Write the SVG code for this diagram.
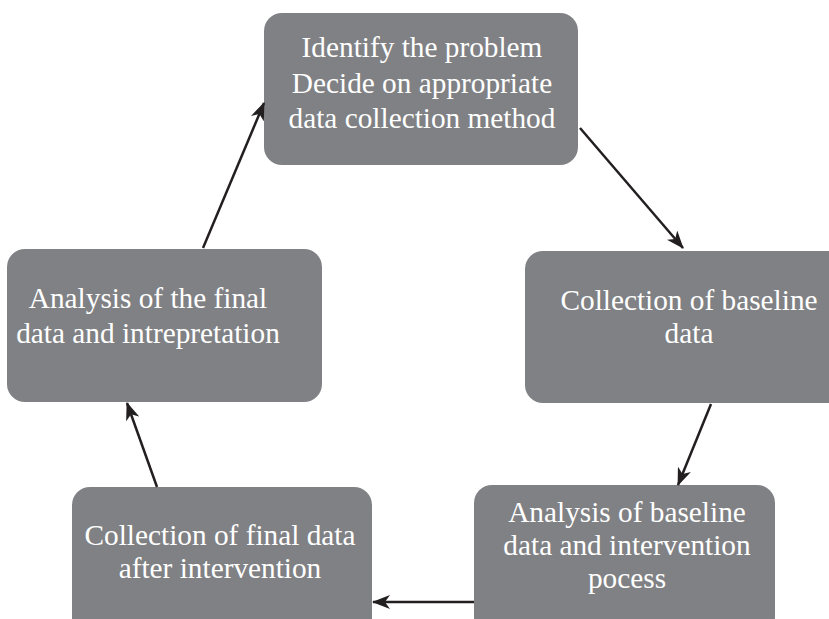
<svg xmlns="http://www.w3.org/2000/svg" width="829" height="619" viewBox="0 0 829 619">
<style>
.box{fill:#808184;}
.lbl{font-family:"Liberation Serif","Times New Roman",serif;font-size:29.3px;fill:#ffffff;text-anchor:middle;}
.conn{stroke:#231f20;stroke-width:2.5;fill:none;marker-end:url(#arr);}
</style>
<defs>
<marker id="arr" viewBox="0 0 18 14" refX="17" refY="7" markerWidth="18" markerHeight="14" markerUnits="userSpaceOnUse" orient="auto">
<path d="M0,0 L18,7 L0,14 L5,7 Z" fill="#231f20"/>
</marker>
</defs>
<rect width="829" height="619" fill="#ffffff"/>
<g id="n1">
<rect class="box" x="264" y="13" width="314" height="152" rx="18"/>
<text class="lbl" x="422" y="57">Identify the problem</text>
<text class="lbl" x="422" y="93">Decide on appropriate</text>
<text class="lbl" x="422" y="128">data collection method</text>
</g>
<g id="n2">
<rect class="box" x="525" y="251" width="320" height="152" rx="18"/>
<text class="lbl" x="689" y="310">Collection of baseline</text>
<text class="lbl" x="689" y="343">data</text>
</g>
<g id="n3">
<rect class="box" x="474" y="485" width="301" height="150" rx="18"/>
<text class="lbl" x="627" y="522">Analysis of baseline</text>
<text class="lbl" x="627" y="555">data and intervention</text>
<text class="lbl" x="627" y="588">pocess</text>
</g>
<g id="n4">
<rect class="box" x="72" y="487" width="300" height="150" rx="18"/>
<text class="lbl" x="220" y="545">Collection of final data</text>
<text class="lbl" x="220" y="578">after intervention</text>
</g>
<g id="n5">
<rect class="box" x="7" y="249" width="315" height="153" rx="18"/>
<text class="lbl" x="148" y="308">Analysis of the final</text>
<text class="lbl" x="148" y="343">data and intrepretation</text>
</g>
<g id="connectors">
<line class="conn" x1="580" y1="128" x2="683" y2="248"/>
<line class="conn" x1="711" y1="404" x2="678" y2="485"/>
<line class="conn" x1="474" y1="602" x2="373" y2="602"/>
<line class="conn" x1="157" y1="487" x2="127" y2="403"/>
<line class="conn" x1="203" y1="248" x2="264" y2="103"/>
</g>
</svg>
